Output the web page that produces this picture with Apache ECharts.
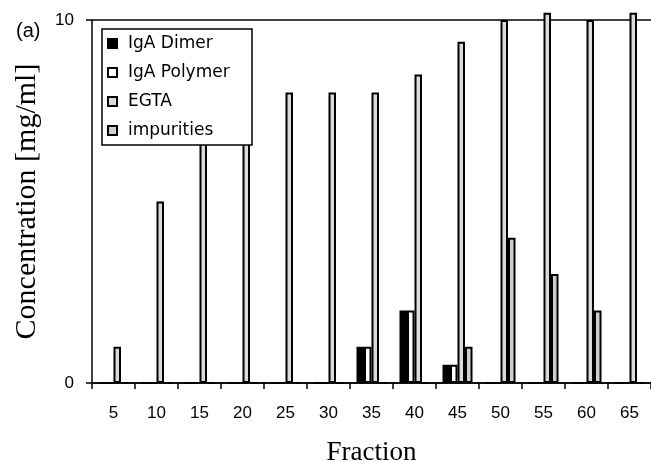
<!DOCTYPE html>
<html>
<head>
<meta charset="utf-8">
<script src="https://cdn.jsdelivr.net/npm/echarts@6/dist/echarts.min.js"></script>
<style>html,body{margin:0;padding:0;background:#fff;}#c{width:651px;height:462px;}</style>
</head>
<body>
<div id="c"></div>
<script>
var categories = ['5','10','15','20','25','30','35','40','45','50','55','60','65'];
var igaDimer   = [0, 0, 0, 0, 0, 0, 1, 2, 0.5, 0, 0, 0, 0];
var igaPolymer = [0, 0, 0, 0, 0, 0, 1, 2, 0.5, 0, 0, 0, 0];
var egta       = [1, 5, 7, 7.5, 8, 8, 8, 8.5, 9.4, 10, 10.2, 10, 10.2];
var impurities = [0, 0, 0, 0, 0, 0, 0, 0, 1, 4, 3, 2, 0];
var yTicks = [0, 10];

var chart = echarts.init(document.getElementById('c'), null, {renderer: 'canvas'});
function bar(name, data, color) {
  return {
    name: name, type: 'bar', data: data, barWidth: 7.5, barGap: '0%', clip: false,
    itemStyle: {color: color, borderColor: '#000', borderWidth: 2},
    emphasis: {disabled: true}
  };
}
chart.setOption({
  animation: false,
  backgroundColor: '#fff',
  title: {text: '(a)', left: 11, top: 16, textStyle: {fontFamily: 'Liberation Sans', fontSize: 20, fontWeight: 'normal', color: '#000'}},
  grid: {left: 92, right: 0, top: 20, bottom: 79, outerBoundsMode: 'none', containLabel: false},
  legend: {
    orient: 'vertical', left: 102, top: 29,
    backgroundColor: '#fff', borderColor: '#000', borderWidth: 1.5, borderRadius: 0,
    padding: [6, 6, 6, 5], itemGap: 12, itemWidth: 9, itemHeight: 9,
    icon: 'rect',
    textStyle: {fontFamily: 'DejaVu Sans', fontSize: 17, color: '#000', lineHeight: 17, width: 118, padding: [0, 0, 0, 6]},
    data: ['IgA Dimer', 'IgA Polymer', 'EGTA', 'impurities']
  },
  xAxis: {
    type: 'category', data: categories,
    name: 'Fraction', nameLocation: 'middle', nameGap: 56,
    nameTextStyle: {fontFamily: 'Liberation Serif', fontSize: 27, color: '#000'},
    axisLine: {lineStyle: {color: '#000', width: 1.5}},
    axisTick: {show: true, length: 6, lineStyle: {color: '#000', width: 1.5}},
    axisLabel: {margin: 22, fontFamily: 'Liberation Sans', fontSize: 17, color: '#000'}
  },
  yAxis: {
    type: 'value', min: yTicks[0], max: yTicks[1], interval: yTicks[1] - yTicks[0],
    name: 'Concentration [mg/ml]', nameLocation: 'middle', nameGap: 50,
    nameTextStyle: {fontFamily: 'Liberation Serif', fontSize: 30, color: '#000'},
    axisLine: {show: true, lineStyle: {color: '#000', width: 1.5}},
    axisTick: {show: true, length: 6, lineStyle: {color: '#000', width: 1.5}},
    axisLabel: {margin: 18, fontFamily: 'Liberation Sans', fontSize: 17, color: '#000'},
    splitLine: {show: true, lineStyle: {color: '#000', width: 1.5}}
  },
  series: [
    bar('IgA Dimer', igaDimer, '#000'),
    bar('IgA Polymer', igaPolymer, '#fff'),
    bar('EGTA', egta, '#dadada'),
    bar('impurities', impurities, '#cfcfcf')
  ]
});
</script>
</body>
</html>
